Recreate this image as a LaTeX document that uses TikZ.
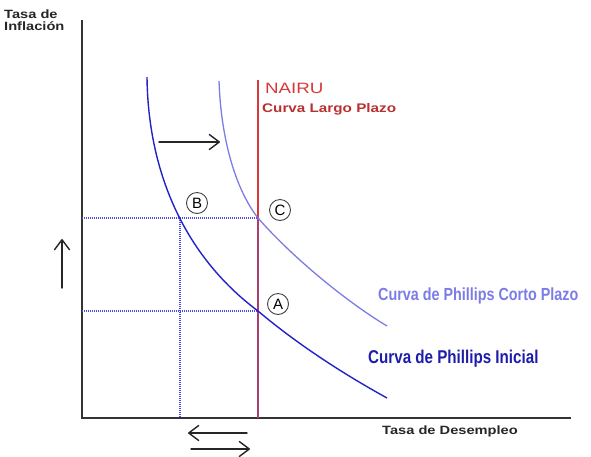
\documentclass[tikz,border=0pt]{standalone}
\usepackage{fontspec}
\setmainfont{Liberation Sans}
\newfontfamily\widebold[FakeStretch=1.22]{Liberation Sans Bold}
\newfontfamily\wideregular[FakeStretch=1.25]{Liberation Sans}
\newfontfamily\narrowbold[FakeStretch=0.82]{Liberation Sans Bold}
\usetikzlibrary{arrows.meta}
\definecolor{darkblue}{HTML}{2222C8}
\definecolor{lightblue}{HTML}{7C7CE6}
\definecolor{nred}{HTML}{D83838}
\definecolor{dotblue}{HTML}{4A4AE8}
\begin{document}
\begin{tikzpicture}[x=1pt,y=-1pt,
  axis/.style={line width=1.2pt, draw=black!80},
  guide/.style={dotblue, line width=1.1pt, dash pattern=on 1pt off 1pt},
  shiftarrow/.style={line width=1.4pt, black!85, line cap=round, -{Straight Barb[length=10pt,width=15pt,line join=round,line cap=round]}},
  letter/.style={circle, draw=black!75, line width=0.9pt, inner sep=0pt, minimum size=21pt, font=\fontsize{15}{15}\selectfont},
  axlabel/.style={font=\widebold\fontsize{12}{13}\selectfont, text=black!85, align=left},
  curvelabel/.style={anchor=west, inner sep=0pt}
]
\useasboundingbox (0,0) rectangle (591,456);
% axes
\coordinate (O) at (82,418);
\coordinate (Ytop) at (82,20);
\coordinate (Xend) at (571,418);
\draw[axis] (Ytop) -- (O) -- (Xend);
\node[axlabel, anchor=north west, inner sep=0pt] (ylab) at (4,10) {Tasa de\\[-1pt]Inflaci\'on};
\node[axlabel, anchor=west, inner sep=0pt] (xlab) at (382,431) {Tasa de Desempleo};
% key points
\coordinate (B) at (180,218);
\coordinate (C) at (258,218);
\coordinate (A) at (258,311);
\coordinate (Bx) at (180,418);
\coordinate (Ax) at (258,418);
\coordinate (By) at (82,218);
\coordinate (Ay) at (82,311);
% guides
\draw[guide] (By) -- (C);
\draw[guide] (Ay) -- (A);
\draw[guide] (B) -- (Bx);
% NAIRU
\coordinate (Ntop) at (258,80);
\draw[nred, line width=1.3pt] (Ntop) -- (Ax);
\draw[guide, opacity=0.6] (C) -- (Ax);
\node[anchor=west, text=nred, font=\wideregular\fontsize{15}{16}\selectfont, inner sep=0pt] (nairu) at (265,88) {NAIRU};
\node[anchor=west, text=nred!85!black, font=\widebold\fontsize{12.5}{13}\selectfont, inner sep=0pt] (largo) at (262,109) {Curva Largo Plazo};
% curves
\coordinate (I0) at (147,77);
\coordinate (I1) at (387,398);
\draw[darkblue, line width=1.4pt] (I0) .. controls (148,170) and (183,255) .. (A)
   .. controls (296,343) and (340,372) .. (I1);
\coordinate (S0) at (219,81);
\coordinate (S1) at (387,326);
\draw[lightblue, line width=1.3pt] (S0) .. controls (221,140) and (236,190) .. (C)
   .. controls (293,258) and (347,302) .. (S1);
\node[curvelabel, text=lightblue, font=\narrowbold\fontsize{17.5}{18}\selectfont] (corto) at (378,296) {Curva de Phillips Corto Plazo};
\node[curvelabel, text=darkblue!85!black, font=\narrowbold\fontsize{18.5}{19}\selectfont] (inicial) at (368,359) {Curva de Phillips Inicial};
% letters
\node[letter] (lB) at (197,203) {B};
\node[letter] (lC) at (280,210) {C};
\node[letter] (lA) at (278,304) {A};
% shift arrows
\coordinate (h1) at (159,142);
\coordinate (h2) at (220,142);
\draw[shiftarrow] (h1) -- (h2);
\coordinate (v1) at (62,288);
\coordinate (v2) at (62,239);
\draw[shiftarrow] (v1) -- (v2);
\coordinate (l1) at (247,433);
\coordinate (l2) at (188,433);
\draw[shiftarrow] (l1) -- (l2);
\coordinate (r1) at (191,449);
\coordinate (r2) at (250,449);
\draw[shiftarrow] (r1) -- (r2);
\end{tikzpicture}
\end{document}
